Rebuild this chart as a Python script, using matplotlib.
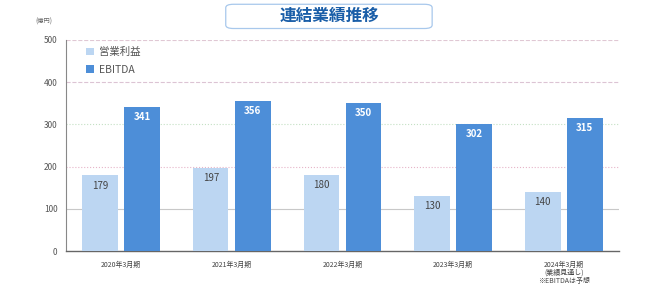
import matplotlib
matplotlib.use("Agg")
import matplotlib.pyplot as plt
from matplotlib.patches import FancyBboxPatch
import numpy as np

plt.rcParams['font.family'] = ['Noto Sans CJK JP', 'DejaVu Sans']

categories = ["2020年3月期", "2021年3月期", "2022年3月期", "2023年3月期",
              "2024年3月期\n(業績見通し)\n※EBITDAは予想"]
op_income = [179, 197, 180, 130, 140]
ebitda = [341, 356, 350, 302, 315]
series_names = ["営業利益", "EBITDA"]
yticks = [0, 100, 200, 300, 400, 500]

light = '#bcd6f2'
dark = '#4d8ed8'

fig = plt.figure(figsize=(6.45, 2.85), dpi=100)
ax = fig.add_axes([0.102, 0.119, 0.858, 0.741])

x = np.arange(len(categories))
w = 0.32
off = 0.19
b1 = ax.bar(x - off, op_income, w, color=light, zorder=3)
b2 = ax.bar(x + off, ebitda, w, color=dark, zorder=3)

for xi, v in zip(x, op_income):
    ax.text(xi - off, v - 12, str(v), ha='center', va='top', fontsize=7,
            color='#444444', zorder=4)
for xi, v in zip(x, ebitda):
    ax.text(xi + off, v - 12, str(v), ha='center', va='top', fontsize=7,
            color='white', fontweight='bold', zorder=4)

ax.set_xlim(-0.5, len(categories) - 0.5)
ax.set_ylim(0, 500)
ax.set_yticks(yticks)
ax.set_yticklabels([str(t) for t in yticks], fontsize=6, color='#555555')
ax.set_xticks(x)
ax.set_xticklabels(categories, fontsize=5, color='#444444', linespacing=1.0,
                   va='top')
ax.tick_params(axis='both', length=0, pad=6)
ax.tick_params(axis='x', pad=7)

grid_styles = {100: ('#c8c8c8', '-'), 200: ('#e6b4c8', ':'),
               300: ('#c4e0c4', ':'), 400: ('#dcc4d4', '--'),
               500: ('#e0c8d4', '--')}
for yv, (c, ls) in grid_styles.items():
    ax.axhline(yv, color=c, lw=0.8, ls=ls, zorder=1)

for s in ['top', 'right']:
    ax.spines[s].set_visible(False)
ax.spines['left'].set_color('#888888')
ax.spines['left'].set_linewidth(0.8)
ax.spines['bottom'].set_color('#666666')
ax.spines['bottom'].set_linewidth(1.0)

leg = ax.legend([b1, b2], series_names, loc='upper left',
                bbox_to_anchor=(0.02, 1.01), frameon=False, fontsize=7.5,
                handlelength=0.7, handleheight=0.7, handletextpad=0.5,
                labelspacing=0.7, labelcolor='#555555')

fig.text(0.068, 0.925, "(億円)", fontsize=4.5, color='#666666', ha='center',
         va='center')

box = FancyBboxPatch((0.350, 0.900), 0.320, 0.085,
                     boxstyle="round,pad=0.0,rounding_size=0.012",
                     transform=fig.transFigure, facecolor='white',
                     edgecolor='#a8c8ec', lw=0.9)
fig.patches.append(box)
fig.text(0.511, 0.943, "連結業績推移", fontsize=12, fontweight='bold',
         color='#1a5ea8', ha='center', va='center')

fig.savefig("out.png", dpi=100)
